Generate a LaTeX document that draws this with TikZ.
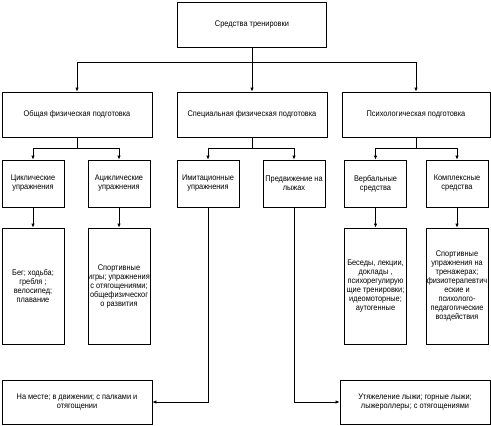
\documentclass[tikz,border=0pt]{standalone}
\usepackage{fontspec}
\setmainfont{Liberation Sans}[FakeStretch=0.9]
\usetikzlibrary{arrows.meta}
\begin{document}
\begin{tikzpicture}[x=1pt,y=-1pt,
  box/.style={draw=black,line width=0.8pt,fill=white,align=center,inner sep=0pt,
    font=\fontsize{8.2}{9}\selectfont},
  wide/.style={box,minimum width=150pt,minimum height=45pt},
  small/.style={box,minimum width=62pt,minimum height=47pt},
  tall/.style={box,minimum width=62pt,minimum height=116pt},
  conn/.style={line width=0.8pt},
  arr/.style={conn,-{Latex[length=4pt,width=3.5pt]}}]
\useasboundingbox (0,0) rectangle (491,426);
\fill[white] (0,0) rectangle (491,426);
% nodes
\node[wide,minimum width=149pt] (top) at (252,24.5) {Средства тренировки};
\node[wide] (ofp) at (77,114.5) {Общая физическая подготовка};
\node[wide] (sfp) at (252,114.5) {Специальная физическая подготовка};
\node[wide,minimum width=148pt] (psy) at (416,114.5) {Психологическая подготовка};
\node[small] (cyc) at (33,183.5) {Циклические\\упражнения};
\node[small] (acyc) at (119,183.5) {Ациклические\\упражнения};
\node[small] (imit) at (208,183.5) {Имитационные\\упражнения};
\node[small] (ski) at (294,183.5) {Предвижение на\\лыжах};
\node[small] (verb) at (375.5,183.5) {Вербальные\\средства};
\node[small] (comp) at (457,183.5) {Комплексные\\средства};
\node[tall] (cycd) at (33,286) {Бег; ходьба;\\гребля ;\\велосипед;\\плавание};
\node[tall] (acycd) at (119,286) {Спортивные\\игры; упражнения\\с отягощениями;\\общефизическог\\о развития};
\node[tall] (verbd) at (375.5,286) {Беседы, лекции,\\доклады ,\\психорегулирую\\щие тренировки;\\идеомоторные;\\аутогенные};
\node[tall] (compd) at (457,286) {Спортивные\\упражнения на\\тренажерах;\\физиотерапевтич\\еские и\\психолого-\\педагогические\\воздействия};
\node[wide,minimum height=44pt] (imitd) at (77,402) {На месте; в движении; с палками и\\отягощении};
\node[wide,minimum height=44pt] (skid) at (415,402) {Утяжеление лыжи; горные лыжи;\\лыжероллеры; с отягощениями};
% junctions
\coordinate (j0) at (252,62);
\coordinate (j1) at (77,148);
\coordinate (j2) at (252,148);
\coordinate (j3) at (416,148);
% connectors
\draw[conn] (top.south) -- (j0);
\draw[arr] (j0) -| (ofp.north);
\draw[arr] (j0) -- (sfp.north);
\draw[arr] (j0) -| (psy.north);
\draw[conn] (ofp.south) -- (j1);
\draw[arr] (j1) -| (cyc.north);
\draw[arr] (j1) -| (acyc.north);
\draw[conn] (sfp.south) -- (j2);
\draw[arr] (j2) -| (imit.north);
\draw[arr] (j2) -| (ski.north);
\draw[conn] (psy.south) -- (j3);
\draw[arr] (j3) -| (verb.north);
\draw[arr] (j3) -| (comp.north);
\draw[arr] (cyc.south) -- (cycd.north);
\draw[arr] (acyc.south) -- (acycd.north);
\draw[arr] (verb.south) -- (verbd.north);
\draw[arr] (comp.south) -- (compd.north);
\draw[arr] (imit.south) |- (imitd.east);
\draw[arr] (ski.south) |- (skid.west);
\end{tikzpicture}
\end{document}
